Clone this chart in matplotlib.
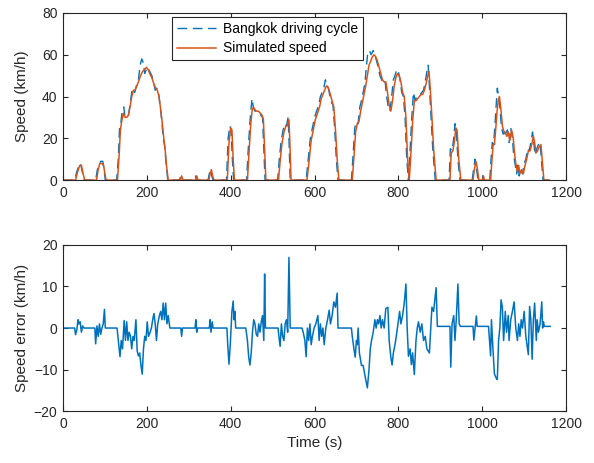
import matplotlib
matplotlib.use("Agg")
import matplotlib.pyplot as plt

plt.rcParams['font.family'] = ['Liberation Sans', 'DejaVu Sans']

# Bangkok driving cycle (reference speed), km/h
ref_t = [0, 28, 33, 38, 42, 46, 50, 78, 82, 86, 90, 95, 98, 101,
         128, 132, 135, 138, 141, 145, 148, 152, 156, 160, 164, 167, 171, 175, 180, 184, 188, 192, 195,
         199, 203, 207, 212, 217, 220, 224, 228, 232, 236, 239, 242, 246, 250,
         278, 281, 284, 314, 317, 320, 346, 349, 352, 355, 358,
         390, 394, 398, 401, 404, 407,
         438, 442, 446, 449, 451, 454, 458, 463, 468, 472, 476, 479, 482,
         512, 516, 520, 525, 530, 533, 537, 539, 542,
         580, 585, 590, 595, 600, 605, 610, 614, 618, 622, 626, 629, 633, 637, 641, 644, 648, 652, 656,
         688, 692, 696, 700, 704, 708, 712, 716, 720, 724, 727, 731, 735, 740, 744, 748, 752, 756, 760,
         764, 768, 772, 776, 780, 784, 788, 792, 796, 800, 804, 808, 812, 816, 820, 824,
         828, 832, 836, 840, 844, 848, 852, 856, 860, 864, 868, 871, 874, 878, 882, 888,
         921, 924, 928, 932, 935, 938, 942, 947,
         976, 980, 983, 986, 990, 1000, 1002, 1004,
         1018, 1021, 1024, 1027, 1030, 1033, 1036, 1039, 1042, 1046, 1050, 1053, 1056, 1060, 1064, 1068,
         1072, 1075, 1078, 1082, 1085, 1088, 1092, 1096, 1100, 1104, 1108, 1112, 1116, 1120, 1123, 1126,
         1130, 1134, 1138, 1141, 1145, 1162]
ref_v = [0, 0, 4, 7, 8, 4, 0, 0, 5, 7, 9, 9, 5, 0,
         0, 10, 25, 27, 33, 35, 30, 30, 31, 36, 42, 44, 42, 45, 48, 55, 58, 56, 51,
         53, 54, 52, 50, 46, 43, 44, 42, 35, 28, 20, 17, 8, 0,
         0, 2, 0, 0, 2, 0, 0, 3, 5, 2, 0,
         0, 20, 26, 24, 10, 0,
         0, 15, 28, 35, 39, 35, 33, 33, 32, 31, 30, 15, 0,
         0, 10, 18, 24, 27, 26, 30, 20, 0,
         0, 10, 20, 25, 30, 33, 36, 40, 42, 44, 48, 45, 44, 40, 37, 36, 25, 10, 0,
         0, 12, 25, 28, 27, 35, 38, 42, 46, 55, 61, 62, 60, 62, 60, 57, 54, 50, 48,
         47, 48, 40, 35, 33, 40, 48, 50, 53, 52, 48, 42, 40, 30, 10, 0,
         15, 30, 42, 38, 40, 40, 41, 42, 43, 47, 52, 55, 45, 30, 15, 0,
         0, 15, 14, 20, 27, 24, 10, 0,
         0, 6, 10, 6, 0, 0, 2, 0,
         0, 10, 18, 17, 25, 35, 44, 40, 35, 25, 22, 23, 21, 24, 18, 25,
         20, 12, 8, 3, 8, 2, 5, 3, 8, 10, 15, 14, 18, 23, 18, 12,
         15, 17, 18, 10, 0, 0]

# Simulated speed, km/h
sim_t = [0, 30, 35, 40, 44, 48, 52, 80, 84, 88, 93, 97, 100, 103,
         130, 134, 137, 140, 144, 148, 152, 156, 160, 164, 168, 172, 176, 180, 185, 190, 195,
         199, 203, 207, 212, 217, 221, 225, 229, 233, 237, 240, 243, 247, 251,
         280, 283, 286, 316, 319, 322, 348, 351, 354, 357, 360,
         392, 396, 400, 403, 406, 409,
         440, 444, 448, 451, 454, 457, 461, 466, 471, 475, 478, 481, 484,
         514, 518, 522, 527, 532, 535, 539, 541, 544,
         582, 587, 592, 597, 602, 607, 612, 616, 620, 624, 628, 631, 635, 639, 643, 646, 650, 654, 658,
         690, 694, 698, 702, 706, 710, 714, 718, 722, 726, 730, 734, 738, 742, 746, 750, 754, 758, 762,
         766, 770, 774, 778, 782, 786, 790, 794, 798, 802, 806, 810, 814, 818, 822, 826,
         830, 834, 838, 842, 846, 850, 854, 858, 862, 866, 870, 873, 876, 880, 884, 890,
         923, 926, 930, 934, 937, 940, 944, 949,
         978, 982, 985, 988, 992, 1001, 1003, 1005,
         1020, 1023, 1026, 1029, 1032, 1035, 1038, 1041, 1044, 1048, 1052, 1055, 1058, 1062, 1066, 1070,
         1074, 1077, 1080, 1084, 1087, 1090, 1094, 1098, 1102, 1106, 1110, 1114, 1118, 1122, 1125, 1128,
         1132, 1136, 1140, 1143, 1147, 1160]
sim_v = [0, 0, 4, 7, 7, 3, 0, 0, 5, 8, 8, 7, 3, 0,
         0, 12, 24, 28, 32, 30, 30, 31, 35, 40, 43, 43, 45, 47, 50, 52, 53,
         54, 53, 51, 49, 46, 44, 43, 40, 34, 27, 21, 16, 7, 0,
         0, 2, 0, 0, 2, 0, 0, 3, 5, 2, 0,
         0, 18, 25, 24, 10, 0,
         0, 14, 27, 33, 35, 34, 33, 33, 32, 31, 29, 14, 0,
         0, 9, 17, 23, 26, 26, 29, 19, 0,
         0, 9, 19, 24, 29, 32, 35, 39, 41, 43, 45, 45, 43, 40, 37, 35, 24, 10, 0,
         0, 11, 23, 27, 28, 33, 37, 41, 45, 50, 55, 57, 59, 60, 59, 57, 54, 51, 48,
         47, 47, 42, 36, 33, 38, 45, 49, 51, 50, 47, 42, 40, 30, 10, 0,
         13, 28, 38, 38, 39, 40, 41, 41, 43, 46, 50, 52, 44, 30, 15, 0,
         0, 13, 14, 19, 25, 24, 10, 0,
         0, 6, 9, 6, 0, 0, 2, 0,
         0, 9, 17, 17, 24, 32, 38, 40, 35, 26, 23, 23, 21, 23, 19, 24,
         20, 13, 8, 4, 7, 3, 5, 3, 7, 10, 14, 14, 17, 21, 18, 13,
         14, 16, 17, 10, 0, 0]

# Speed error, km/h
err_t = [0, 28, 30, 33, 36, 38, 41, 44, 47, 50,
         76, 78, 81, 84, 87, 90, 93, 96, 99, 101,
         129, 132, 136, 139, 142, 146, 149, 152, 155, 158, 161, 164, 167, 170, 174, 177, 180, 183, 186,
         189, 192, 195, 198, 201, 204, 208, 211, 214, 217, 220, 223, 226, 230, 233, 236, 239, 242, 245,
         248, 251, 255,
         281, 283, 285, 315, 317, 319, 321, 349, 351, 353, 356, 358,
         391, 393, 396, 399, 401, 403, 406, 408, 410, 412,
         436, 440, 443, 446, 449, 452, 455, 458, 461, 464, 467, 470, 473, 476, 479, 481, 483,
         513, 515, 518, 521, 524, 527, 530, 533, 536, 539, 542,
         570, 573, 577, 580, 583, 586, 589, 592, 595, 599, 603, 608, 611, 614, 617, 620, 623, 627, 631,
         635, 638, 642, 646, 650, 654, 656,
         688, 690, 694, 697, 700, 702, 704, 707, 712, 716, 720, 726, 730, 733, 736, 740, 744, 747, 750,
         753, 756, 759, 762, 766, 770, 775, 778, 782, 785, 788, 792, 795, 799, 803, 806, 810, 814, 818,
         821, 824, 828, 831, 834, 838, 842, 845, 848, 852, 856, 860, 864, 868, 874, 880, 884, 890, 893,
         923, 925, 928, 932, 935, 938, 942, 945, 948,
         978, 980, 984, 986, 988,
         1015, 1020, 1022, 1025, 1029, 1033, 1036, 1039, 1042, 1045, 1048, 1051, 1055, 1058, 1062, 1064,
         1068, 1072, 1076, 1080, 1084, 1087, 1090, 1093, 1096, 1100, 1104, 1110, 1113, 1116, 1119, 1122,
         1125, 1129, 1131, 1134, 1138, 1142, 1144, 1146, 1148, 1162]
err_v = [0, 0, -1.6, -0.5, 2, 1, 1.5, -1, 0.5, 0,
         0, -3.8, 0.5, -2, 1, -1.5, 0, 1, 4.5, 0,
         0, -3, -6.9, -3, -5, 1.8, -3, 1.5, -3, -1, -2, -5, -2, -3, 2, -5.5, -6.7, -6, -9,
         -11.1, -5, -2, -3, 1.5, -2, -1, 0, 2, 3.5, 1, -3, 1, 3, 4, 2, 6, 2, 6,
         1, 3, 0,
         0, -2, 0, 0, 2, -1, 0, 0, 2, -1, 1.5, 0,
         0, -4, -8.7, -4, 0, 4, 6.5, 2, 4, 0,
         0, -3, -7, -8.9, -6, -1, 2, 1, -1.5, -2, 1, -1, 1.5, 3, -3, 13, 0,
         0, -2, -4.4, 1, -2, -3, 1, 2, -1, 17, 0,
         0, -1, -3, -6.9, 0, -3, 1, -4, -2, 0, 1, 3, -3, 1, -2, 0, -4, 0, 2,
         4.3, 1, 3, 6.3, 5, 8.4, 0,
         0, -2, -5, -7, -3, -4, 0, -6, -9, -9, -11.3, -14.4, -10, -5, -3, -1, 2, 0, 2,
         1, 3, 0, 2, 0, 4.7, 5, -3, -7, -8.9, -6, -4, -2, 1, 4, 1, 3, 6, 10.6,
         0, -6.8, -5, -8.8, -6, -11.2, -3, 0, 1.5, -1, 1, -3, -2, -5, -6, 5, 4, 9.7, 0.4,
         0.4, -9.4, 1, 3, -3, 2, 10.6, 1, 0.4,
         0.4, -2.9, 1, 2.9, 0.4,
         0.4, -6.7, 2, -4, -11, -12, -12.4, -3, 0, 6.8, 5, -3, 4, -1, 3, -3,
         2, 4, 6.3, 0, -3, 1, -2, 2, 0, 4, -2, -6.4, 5.2, 2, -7.5, 2,
         6, -3, 2, -1, 1, 6.3, 0, 1.5, 0.4, 0.4]

x_ticks = [0, 200, 400, 600, 800, 1000, 1200]
speed_ticks = [0, 20, 40, 60, 80]
err_ticks = [-20, -10, 0, 10, 20]

blue = '#0072BD'
orange = '#D95319'
axc = '#262626'

fig = plt.figure(figsize=(5.94, 4.63), dpi=100)
ax1 = fig.add_axes([0.106, 0.611, 0.847, 0.361])
ax2 = fig.add_axes([0.106, 0.112, 0.847, 0.359])

ax1.plot(ref_t, ref_v, color=blue, lw=1.0, ls=(0, (7, 4)), label='Bangkok driving cycle')
ax1.plot(sim_t, sim_v, color=orange, lw=1.1, label='Simulated speed')
ax1.set_xlim(0, 1200)
ax1.set_ylim(0, 80)
ax1.set_xticks(x_ticks)
ax1.set_yticks(speed_ticks)
ax1.set_ylabel('Speed (km/h)', fontsize=11, color=axc)
leg = ax1.legend(loc='upper left', bbox_to_anchor=(0.217, 0.976), borderaxespad=0,
                 fontsize=10, fancybox=False, framealpha=1, edgecolor=axc,
                 handlelength=2.8, borderpad=0.35, labelspacing=0.4, handletextpad=0.5)
leg.get_frame().set_linewidth(0.8)

ax2.plot(err_t, err_v, color=blue, lw=1.1)
ax2.set_xlim(0, 1200)
ax2.set_ylim(-20, 20)
ax2.set_xticks(x_ticks)
ax2.set_yticks(err_ticks)
ax2.set_ylabel('Speed error (km/h)', fontsize=11, color=axc)
ax2.set_xlabel('Time (s)', fontsize=11, color=axc)

for ax in (ax1, ax2):
    ax.tick_params(direction='in', top=True, right=True, length=3.5, width=0.8,
                   labelsize=10, colors=axc, pad=4)
    for s in ax.spines.values():
        s.set_color(axc)
        s.set_linewidth(0.8)

ax1.yaxis.set_label_coords(-0.068, 0.5)
ax2.yaxis.set_label_coords(-0.068, 0.5)

fig.savefig('out.png', dpi=100)
